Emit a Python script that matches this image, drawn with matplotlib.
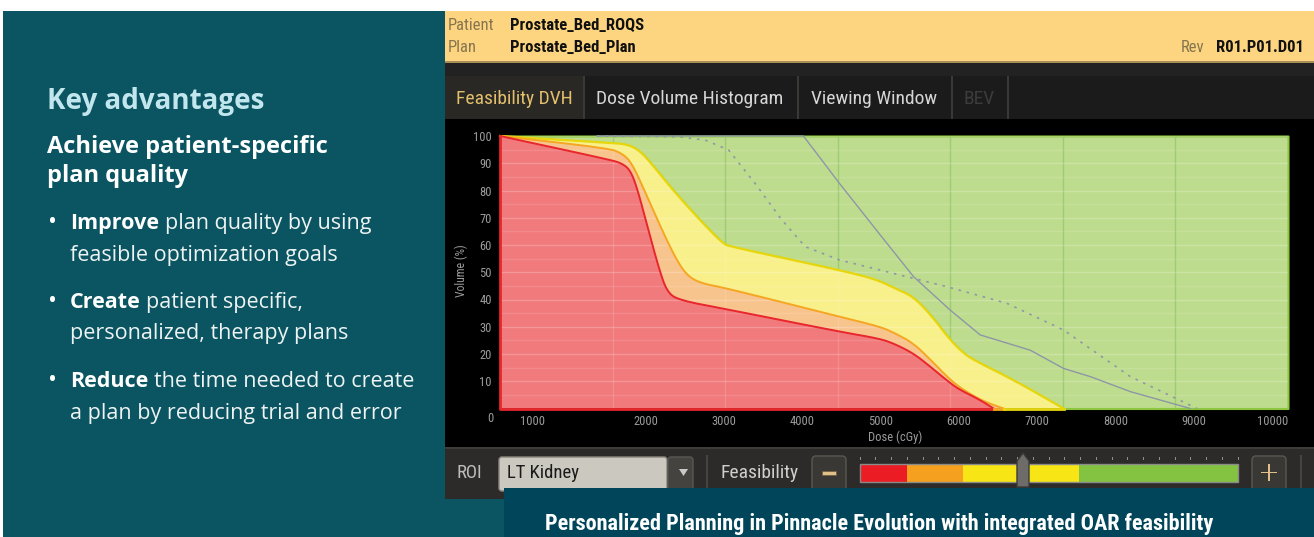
import numpy as np
import matplotlib
matplotlib.use("Agg")
import matplotlib.pyplot as plt
from matplotlib.patches import Rectangle, FancyBboxPatch, Polygon

# condensed UI font for the screenshot part, Open Sans for the brochure text
UI = ['Roboto Condensed', 'Liberation Sans Narrow', 'DejaVu Sans']
BODY = ['Open Sans', 'DejaVu Sans']
plt.rcParams['font.family'] = UI

# --- DVH feasibility bands (dose in cGy, volume in %) ---
dose_red = [140, 1524, 1695, 1801, 1886, 2035, 2163, 2270, 2418, 3036, 4474, 4994,
            5185, 5419, 5632, 5888, 6015, 6271, 6441]
vol_red = [100, 91.4, 90, 87.5, 81.4, 65.5, 52, 42.9, 39.8, 36.4, 28.2, 25.6,
           23.6, 20.2, 15.4, 9.3, 6.8, 3.1, 0]

dose_orange = [140, 1524, 1700, 1825, 2000, 2248, 2418, 2546, 2716, 3036, 4474, 4994,
               5185, 5419, 5650, 5888, 6057, 6300, 6568]
vol_orange = [100, 95.5, 93.6, 90, 79, 63, 53.3, 48.4, 45.9, 44.1, 33.7, 30,
              27.6, 23.9, 17.5, 10.5, 6.8, 2.8, 0]

dose_yellow = [140, 1524, 1758, 1907, 2035, 2418, 2972, 3100, 4474, 4930, 5185, 5419,
               5650, 5888, 6050, 6185, 6696, 7335]
vol_yellow = [100, 97.5, 97, 94.9, 91.2, 77.7, 60.6, 59.3, 50.8, 47.5, 44.1, 41,
              34, 25.1, 20.5, 17.8, 10.5, 0]

# current plan DVH (solid) and reference DVH (dotted)
dose_plan = [1380, 4014, 4474, 4994, 5419, 5888, 6271, 6909, 7335, 7676, 8187, 8953]
vol_plan = [100, 100, 82.6, 63.7, 48.4, 36.1, 27, 21.4, 14.7, 11.7, 6.2, 0]

dose_ref = [1380, 2418, 2759, 3057, 3397, 3738, 4036, 4474, 4994, 5845, 6611, 7335, 8187, 9038]
vol_ref = [100, 99.7, 98.5, 94.9, 82.6, 69.2, 59.4, 54.5, 50.8, 44.7, 38.6, 28.8, 11.7, 0]

x_tick_labels = ['1000', '2000', '3000', '4000', '5000', '6000', '7000', '8000', '9000', '10000']
y_tick_labels = ['10', '20', '30', '40', '50', '60', '70', '80', '90', '100']

bullets = [('Improve', 'plan quality by using', 'feasible optimization goals'),
           ('Create', 'patient specific,', 'personalized, therapy plans'),
           ('Reduce', 'the time needed to create', 'a plan by reducing trial and error')]

tabs = ['Feasibility DVH', 'Dose Volume Histogram', 'Viewing Window', 'BEV']


def chaikin(xs, ys, n=2):
    # corner cutting so the band edges look smooth like the screenshot
    p = np.column_stack([xs, ys]).astype(float)
    for _ in range(n):
        q = 0.75 * p[:-1] + 0.25 * p[1:]
        r = 0.25 * p[:-1] + 0.75 * p[1:]
        mid = np.empty((2 * len(q), 2))
        mid[0::2] = q
        mid[1::2] = r
        p = np.vstack([p[:1], mid, p[-1:]])
    return p[:, 0], p[:, 1]


fig = plt.figure(figsize=(13.14, 5.37), dpi=100, facecolor='white')
bg = fig.add_axes([0, 0, 1, 1])
bg.set_xlim(0, 1314)
bg.set_ylim(537, 0)
bg.axis('off')


def box(x0, y0, x1, y1, color, **kw):
    bg.add_patch(Rectangle((x0, y0), x1 - x0, y1 - y0, facecolor=color,
                           edgecolor=kw.pop('edgecolor', 'none'), **kw))


# brochure panel
box(3, 11, 1314, 537, '#0a5561')

# --- screenshot frame ---
box(445, 11, 1314, 62, '#fdd580')
box(445, 61, 1314, 62.5, '#a88f55')
box(445, 62.5, 1314, 76, '#222222')
box(445, 76, 1314, 119, '#1b1b1b')
box(445, 76, 583, 119, '#2a2824')
for xd in [583, 797, 951, 1007]:
    box(xd, 76, xd + 1.5, 119, '#3a3936')
box(445, 119, 1314, 447, '#000000')
box(445, 447, 1314, 499, '#2c2b29')
box(445, 447, 1314, 449, '#3d3c39')

bg.text(448, 26, 'Patient', color='#85754f', fontsize=12, va='center')
bg.text(448, 48, 'Plan', color='#85754f', fontsize=12, va='center')
bg.text(510, 26, 'Prostate_Bed_ROQS', color='#111111', fontsize=12, fontweight='bold', va='center')
bg.text(510, 48, 'Prostate_Bed_Plan', color='#111111', fontsize=12, fontweight='bold', va='center')
bg.text(1181, 48, 'Rev', color='#85754f', fontsize=12, va='center')
bg.text(1216, 48, 'R01.P01.D01', color='#111111', fontsize=12, fontweight='bold', va='center')

tab_x = [514, 690, 874, 979]
tab_c = ['#e2bf6c', '#d6d6d6', '#d6d6d6', '#3c3c3c']
for t, xc, c in zip(tabs, tab_x, tab_c):
    bg.text(xc, 99, t, color=c, fontsize=14, ha='center', va='center')

# bottom toolbar
bg.text(457, 473, 'ROI', color='#bdbdbd', fontsize=13.5, va='center')
bg.add_patch(FancyBboxPatch((499, 457), 168, 34, boxstyle='round,pad=0,rounding_size=3',
                            facecolor='#cbc8c0', edgecolor='#8a877f', lw=1))
bg.add_patch(FancyBboxPatch((668, 457), 25, 34, boxstyle='round,pad=0,rounding_size=3',
                            facecolor='#45433f', edgecolor='#5a5853', lw=1))
bg.add_patch(Polygon([[679, 469], [688, 469], [683.5, 476]], closed=True, facecolor='#c9c9c9'))
bg.text(507, 473, 'LT Kidney', color='#1a1a1a', fontsize=13.5, va='center')
box(706, 455, 707.5, 495, '#47453f')
bg.text(720, 473, 'Feasibility', color='#cfcfcf', fontsize=14, va='center')
for bx in [812, 1252]:
    bg.add_patch(FancyBboxPatch((bx, 456), 34, 36, boxstyle='round,pad=0,rounding_size=4',
                                facecolor='#3a3835', edgecolor='#5b5852', lw=1))
box(822, 470.5, 836, 474.5, '#e0c088', edgecolor='#6b5a3c', lw=0.5)
box(1261, 471.5, 1277, 473, '#e0c088')
box(1268.2, 464, 1269.8, 481, '#e0c088')
box(1300, 455, 1301.5, 495, '#47453f')

# feasibility slider
seg_x = [860, 907, 963, 1017, 1079, 1238]
seg_c = ['#ec1c24', '#f5a11f', '#f7e516', '#f7e516', '#84c341']
for x0, x1, c in zip(seg_x[:-1], seg_x[1:], seg_c):
    box(x0, 464, x1, 481.5, c)
bg.add_patch(Rectangle((860, 464), 378, 17.5, facecolor='none', edgecolor='#8a8a8a', lw=1))
for xt in np.linspace(860, 1238, 25):
    box(xt - 0.5, 456.5, xt + 0.5, 460, '#8f8f8f')
bg.add_patch(Polygon([[1017, 461], [1023, 453], [1029, 461], [1029, 487], [1017, 487]],
                     closed=True, facecolor='#6e6c68', edgecolor='#3a3a3a', lw=1))

# caption box
box(504, 488, 1314, 537, '#00455a')
bg.text(879, 524, 'Personalized Planning in Pinnacle Evolution with integrated OAR feasibility',
        color='white', fontsize=16, fontweight='bold', ha='center', va='center')

# brochure text
bg.text(47, 109, 'Key advantages', color='#c2e6ee', fontsize=20, fontweight='bold',
        family=BODY, va='baseline')
bg.text(47, 153, 'Achieve patient-specific', color='white', fontsize=17, fontweight='bold',
        family=BODY, va='baseline')
bg.text(47, 182, 'plan quality', color='white', fontsize=17, fontweight='bold',
        family=BODY, va='baseline')
base_y = [229, 308, 387]
for (word, rest, line2), yb in zip(bullets, base_y):
    bg.text(48.5, yb, '•', color='white', fontsize=17, family=BODY, va='baseline')
    t = bg.text(70, yb, word, color='white', fontsize=15.5, fontweight='bold',
                family=BODY, va='baseline')
    bg.annotate(rest, xy=(1, yb), xycoords=(t, 'data'), xytext=(4, 0),
                textcoords='offset points', color='#eef3f3', fontsize=15.5,
                family=BODY, va='baseline')
    bg.text(70, yb + 31.5, line2, color='#eef3f3', fontsize=15.5,
            family=BODY, va='baseline')

# --- DVH chart ---
x_lo, x_hi = 140, 10200
ax = fig.add_axes([500 / 1314, (537 - 408.5) / 537, 788 / 1314, 272.5 / 537])
ax.set_xlim(x_lo, x_hi)
ax.set_ylim(0, 100)
ax.set_facecolor('#000000')
for s in ax.spines.values():
    s.set_visible(False)

rx, ry = chaikin(dose_red, vol_red)
ox, oy = chaikin(dose_orange, vol_orange)
yx, yy = chaikin(dose_yellow, vol_yellow)

xg = np.linspace(x_lo, x_hi, 600)
red_i = np.interp(xg, rx, ry, right=0)
orange_i = np.interp(xg, ox, oy, right=0)
yellow_i = np.interp(xg, yx, yy, right=0)

green = ax.fill_between(xg, yellow_i, 100, facecolor='#bedc8e', edgecolor='#8cc63f', lw=1.5,
                        zorder=1, clip_on=False)
ax.fill_between(xg, orange_i, yellow_i, where=yellow_i > 0, facecolor='#f8f08a',
                edgecolor='none', zorder=1.1)
ax.fill_between(xg, red_i, orange_i, where=orange_i > 0, facecolor='#f8c48e',
                edgecolor='none', zorder=1.2)
ax.fill_between(xg, 0, red_i, where=red_i > 0, facecolor='#f17a7d', edgecolor='none', zorder=1.3)
ax.plot(yx, yy, color='#e6d60c', lw=1.6, zorder=3, clip_on=False)
ax.plot(ox, oy, color='#f5a623', lw=1.4, zorder=3.1, clip_on=False)
ax.plot(rx, ry, color='#e8262c', lw=1.4, zorder=3.2, clip_on=False)
ax.plot([x_lo, x_lo, dose_red[-1]], [100, 0, 0], color='#e8262c', lw=2, zorder=3.2, clip_on=False)
ax.plot([dose_red[-1], dose_orange[-1]], [0, 0], color='#f5a623', lw=2, zorder=3.2, clip_on=False)
ax.plot([dose_orange[-1], dose_yellow[-1]], [0, 0], color='#e6d60c', lw=2, zorder=3.2, clip_on=False)

ax.plot(dose_plan, vol_plan, color='#8e97a6', lw=1, zorder=3.5, clip_on=False)
ax.plot(dose_ref, vol_ref, color='#8e97a6', lw=1.2, ls=(0, (1.5, 3.5)), zorder=3.5, clip_on=False)

# grid: 7 vertical divisions, horizontal every 5 %
v_grid = np.linspace(x_lo, x_hi, 8)[1:-1]
ax.vlines(v_grid, 0, 100, color='white', lw=1, alpha=0.13, zorder=2)
vg = ax.vlines(v_grid, 0, 100, color='#7cbd4c', lw=1, alpha=0.55, zorder=2.1)
vg.set_clip_path(green.get_paths()[0], transform=ax.transData)
ax.set_yticks(np.arange(5, 100, 10), minor=True)
ax.grid(which='major', axis='y', color='white', lw=1, alpha=0.22)
ax.grid(which='minor', axis='y', color='white', lw=1, alpha=0.12)
ax.set_axisbelow(False)

ax.set_xticks([550] + list(range(2000, 10001, 1000)))
ax.set_xticklabels(x_tick_labels)
ax.set_yticks(range(10, 101, 10))
ax.set_yticklabels(y_tick_labels)
ax.tick_params(which='both', length=0, labelsize=9, labelcolor='#9c9c9c')
ax.tick_params(axis='x', pad=5)
ax.tick_params(axis='y', pad=6)

bg.text(490, 419, '0', color='#9c9c9c', fontsize=9, ha='center', va='center')
bg.text(461, 271, 'Volume (%)', color='#9c9c9c', fontsize=8.5, rotation=90,
        ha='center', va='center')
bg.text(895, 437, 'Dose (cGy)', color='#9c9c9c', fontsize=9, ha='center', va='center')

fig.savefig('out.png', dpi=100, facecolor='white')
